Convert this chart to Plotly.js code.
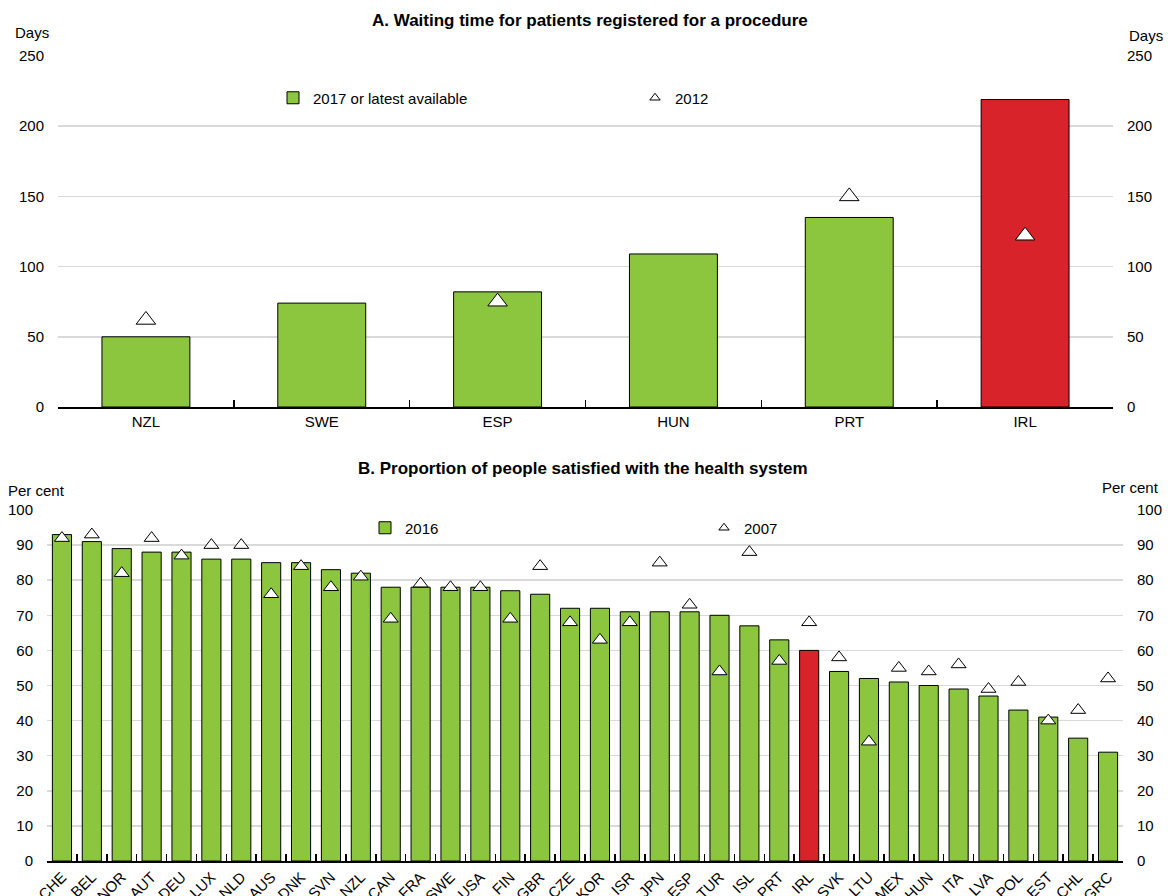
<!DOCTYPE html>
<html><head><meta charset="utf-8">
<script src="https://cdn.plot.ly/plotly-3.0.1.min.js"></script>
<style>html,body{margin:0;padding:0;background:#fff}#chart{width:1174px;height:896px}</style>
</head><body><div id="chart"></div>
<script>
// Panel A data
const waitCountries = ['NZL','SWE','ESP','HUN','PRT','IRL'];
const wait2017 = [50, 74, 82, 109, 135, 219];
const wait2012 = [62, null, 75, null, 150, 122];
// Panel B data
const satCountries = ['CHE','BEL','NOR','AUT','DEU','LUX','NLD','AUS','DNK','SVN','NZL','CAN','FRA','SWE','USA','FIN','GBR','CZE','KOR','ISR','JPN','ESP','TUR','ISL','PRT','IRL','SVK','LTU','MEX','HUN','ITA','LVA','POL','EST','CHL','GRC'];
const sat2016 = [93,91,89,88,88,86,86,85,85,83,82,78,78,78,78,77,76,72,72,71,71,71,70,67,63,60,54,52,51,50,49,47,43,41,35,31];
const sat2007 = [92,93,82,92,87,90,90,76,84,78,81,69,79,78,78,69,84,68,63,68,85,73,54,88,57,68,58,34,55,54,56,49,51,40,43,52];
const highlight = 'IRL';

const GREEN = '#8CC63F', RED = '#D9232A';
const W = 1174, H = 896;
const px = x => x / W, py = y => 1 - y / H;
const FONT = 'Liberation Sans, Arial, sans-serif';
const colorsFor = cs => cs.map(c => c === highlight ? RED : GREEN);

const tri = s => ({symbol: 'triangle-up', size: s, color: '#fff', line: {color: '#000', width: 1}});

const traces = [
  {type: 'bar', x: waitCountries, y: wait2017, xaxis: 'x', yaxis: 'y', width: 0.5,
   marker: {color: colorsFor(waitCountries), line: {color: '#000', width: 1}},
   name: '2017 or latest available', legend: 'legend'},
  {type: 'scatter', mode: 'markers', x: waitCountries, y: wait2012, xaxis: 'x', yaxis: 'y',
   marker: tri(17), showlegend: false, name: '2012', cliponaxis: false},
  {type: 'scatter', mode: 'markers', x: [null], y: [null], xaxis: 'x', yaxis: 'y',
   marker: tri(9), name: '2012', legend: 'legend2'},
  // invisible carrier for the right-hand axis of panel A
  {type: 'scatter', mode: 'markers', x: waitCountries, y: wait2017, xaxis: 'x', yaxis: 'y3',
   marker: {opacity: 0}, showlegend: false, hoverinfo: 'skip'},

  {type: 'bar', x: satCountries, y: sat2016, xaxis: 'x2', yaxis: 'y2', width: 0.64,
   marker: {color: colorsFor(satCountries), line: {color: '#000', width: 1}},
   name: '2016', legend: 'legend3'},
  {type: 'scatter', mode: 'markers', x: satCountries, y: sat2007, xaxis: 'x2', yaxis: 'y2',
   marker: tri(13), showlegend: false, name: '2007', cliponaxis: false},
  {type: 'scatter', mode: 'markers', x: [null], y: [null], xaxis: 'x2', yaxis: 'y2',
   marker: tri(9), name: '2007', legend: 'legend4'},
  // invisible carrier for the right-hand axis of panel B
  {type: 'scatter', mode: 'markers', x: satCountries, y: sat2016, xaxis: 'x2', yaxis: 'y4',
   marker: {opacity: 0}, showlegend: false, hoverinfo: 'skip'}
];

const yBase = {gridcolor: '#d9d9d9', gridwidth: 1.5, zeroline: false, showline: false, ticks: '',
  tickfont: {size: 15, color: '#000'}, fixedrange: true, ticklabelstandoff: 13};
const xBase = {type: 'category', showline: true, linecolor: '#000', linewidth: 1.5, ticks: 'inside',
  tickson: 'boundaries', ticklen: 7, tickcolor: '#000', tickwidth: 1.5, showgrid: false,
  tickfont: {size: 15, color: '#000'}, fixedrange: true};

const legBase = {orientation: 'h', xanchor: 'left', yanchor: 'middle', bgcolor: 'rgba(0,0,0,0)',
  font: {size: 15, color: '#000'}, itemwidth: 30, tracegroupgap: 0};

const layout = {
  width: W, height: H, margin: {l: 0, r: 0, t: 0, b: 0},
  paper_bgcolor: '#fff', plot_bgcolor: '#fff',
  font: {family: FONT, color: '#000'},
  bargap: 0,
  xaxis: Object.assign({}, xBase, {domain: [px(58), px(1113)], anchor: 'y', range: [-0.5, 5.5]}),
  yaxis: Object.assign({}, yBase, {domain: [py(407), py(56)], anchor: 'x', range: [0, 250], dtick: 50}),
  yaxis3: Object.assign({}, yBase, {overlaying: 'y', side: 'right', anchor: 'x', range: [0, 250], dtick: 50, showgrid: false}),
  xaxis2: Object.assign({}, xBase, {domain: [px(47), px(1123)], anchor: 'y2', range: [-0.5, 35.5], tickangle: -45}),
  yaxis2: Object.assign({}, yBase, {domain: [py(861), py(510)], anchor: 'x2', range: [0, 100], dtick: 10}),
  yaxis4: Object.assign({}, yBase, {overlaying: 'y2', side: 'right', anchor: 'x2', range: [0, 100], dtick: 10, showgrid: false}),
  legend: Object.assign({}, legBase, {x: px(273), y: py(98)}),
  legend2: Object.assign({}, legBase, {x: px(635), y: py(98)}),
  legend3: Object.assign({}, legBase, {x: px(365), y: py(528)}),
  legend4: Object.assign({}, legBase, {x: px(704), y: py(528)}),
  annotations: [
    {text: '<b>A. Waiting time for patients registered for a procedure</b>', x: px(590), y: py(20), xref: 'paper', yref: 'paper', showarrow: false, font: {size: 17}, xanchor: 'center', yanchor: 'middle'},
    {text: '<b>B. Proportion of people satisfied with the health system</b>', x: px(583), y: py(468), xref: 'paper', yref: 'paper', showarrow: false, font: {size: 17}, xanchor: 'center', yanchor: 'middle'},
    {text: 'Days', x: px(32), y: py(33), xref: 'paper', yref: 'paper', showarrow: false, font: {size: 15}, xanchor: 'center', yanchor: 'middle'},
    {text: 'Days', x: px(1146), y: py(36), xref: 'paper', yref: 'paper', showarrow: false, font: {size: 15}, xanchor: 'center', yanchor: 'middle'},
    {text: 'Per cent', x: px(37), y: py(490), xref: 'paper', yref: 'paper', showarrow: false, font: {size: 15}, xanchor: 'center', yanchor: 'middle'},
    {text: 'Per cent', x: px(1130), y: py(487), xref: 'paper', yref: 'paper', showarrow: false, font: {size: 15}, xanchor: 'center', yanchor: 'middle'}
  ]
};

Plotly.newPlot('chart', traces, layout, {staticPlot: true, displayModeBar: false});
</script>
</body></html>
